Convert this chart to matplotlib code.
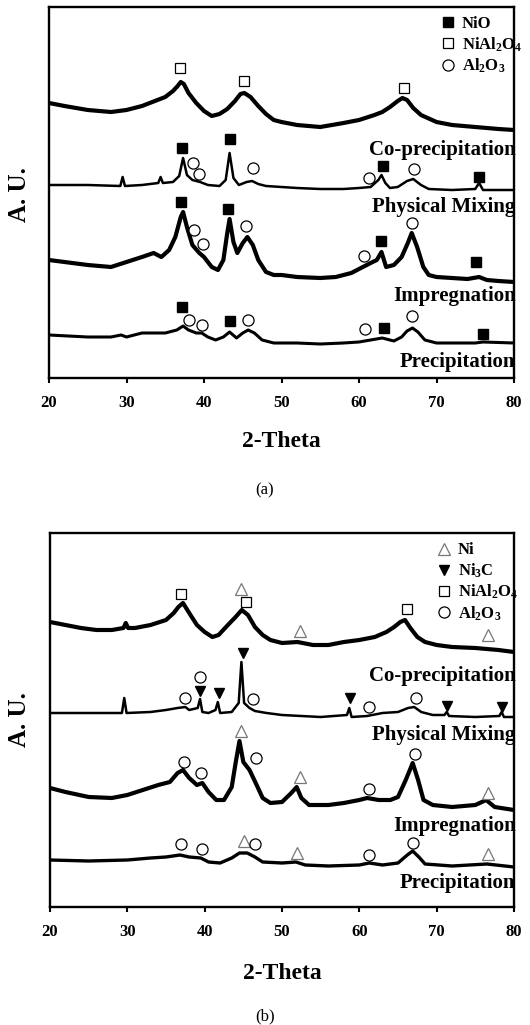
import matplotlib
matplotlib.use('Agg')
import matplotlib.pyplot as plt

plt.rcParams['font.family'] = ['Liberation Serif', 'DejaVu Serif']
plt.rcParams['font.weight'] = 'bold'
plt.rcParams['mathtext.fontset'] = 'custom'
plt.rcParams['mathtext.rm'] = 'Liberation Serif:bold'
plt.rcParams['mathtext.it'] = 'Liberation Serif:bold'
plt.rcParams['mathtext.bf'] = 'Liberation Serif:bold'

sample_labels = ['Co-precipitation', 'Physical Mixing', 'Impregnation', 'Precipitation']
x_ticks = [20, 30, 40, 50, 60, 70, 80]

# ---------------- panel (a): calcined catalysts ----------------
a_coprec_tt = [20, 22, 25, 28, 30, 32, 33, 34, 35, 36, 36.6, 37.0, 37.4, 38, 39, 40, 41, 42, 43, 44,
               44.7, 45.2, 46, 47, 48, 49, 50, 52, 55, 58, 60, 62, 63, 64, 65, 65.6, 66.2, 67, 68, 70,
               72, 75, 78, 80]
a_coprec_int = [275, 272, 268, 266, 268, 272, 275, 278, 281, 287, 292, 296, 294, 285, 275, 267, 262, 264, 269, 277,
                284, 285, 281, 272, 264, 258, 256, 253, 251, 255, 258, 263, 266, 271, 277, 280, 278, 270, 263, 256,
                253, 251, 249, 248]

a_phys_tt = [20, 25, 29.2, 29.5, 29.8, 32, 34.1, 34.4, 34.7, 36, 36.8, 37.3, 37.8, 38.5, 39.5, 40.5, 42, 42.8, 43.3, 43.8,
             44.5, 45.5, 46.2, 47, 48, 50, 52, 55, 58, 60, 61.5, 62.5, 62.9, 63.4, 64, 65, 66.2, 67, 68, 69,
             72, 75, 75.5, 76, 78, 80]
a_phys_int = [193, 193, 192, 201, 192, 193, 195, 201, 195, 196, 202, 220, 203, 198, 196, 193, 192, 198, 225, 200,
              193, 196, 197, 194, 192, 191, 190, 189, 189, 190, 191, 198, 203, 195, 190, 191, 197, 199, 193, 189,
              188, 189, 195, 188, 188, 188]

a_impreg_tt = [20, 22, 25, 28, 30, 32, 33.5, 34.5, 35.5, 36.3, 37.0, 37.3, 37.8, 38.5, 39.4, 40, 41, 41.8, 42.5, 43.0,
               43.3, 43.8, 44.3, 45.0, 45.6, 46.3, 47, 48, 49, 50, 52, 55, 57, 59, 60.5, 61.5, 62.3, 62.9, 63.5, 64.5,
               65.5, 66.3, 66.8, 67.5, 68.3, 69, 70, 72, 74, 75.5, 76.5, 78, 80]
a_impreg_int = [118, 116, 113, 111, 116, 121, 125, 121, 128, 141, 161, 166, 151, 133, 125, 121, 111, 108, 118, 145,
                159, 136, 125, 135, 141, 133, 118, 106, 103, 103, 101, 100, 101, 105, 111, 115, 118, 126, 111, 113,
                121, 135, 145, 131, 111, 103, 101, 100, 99, 101, 98, 97, 96]

a_precip_tt = [20, 25, 28, 29.3, 30, 32, 33, 35, 36.5, 37.3, 38, 39, 39.7, 40.5, 41.5, 42.5, 43.3, 44.2, 45.0, 45.7,
               46.5, 47.5, 49, 52, 55, 58, 60, 61.5, 63, 64.5, 65.5, 66.2, 66.9, 67.6, 68.5, 70, 75, 76, 80]
a_precip_int = [43, 41, 41, 43, 41, 45, 45, 45, 48, 52, 48, 45, 45, 41, 38, 41, 46, 40, 45, 48,
                45, 38, 35, 35, 34, 35, 36, 38, 40, 37, 41, 47, 50, 46, 38, 35, 35, 36, 35]

a_nio_tt = [37.2, 43.3, 63.1, 75.5, 37.0, 43.1, 62.9, 75.1, 37.2, 43.3, 63.2, 76.0]
a_nio_int = [230, 239, 212, 201, 176, 169, 137, 116, 71, 57, 50, 44]
a_nial2o4_tt = [36.95, 45.1, 65.8]
a_nial2o4_int = [310, 297, 290]
a_al2o3_tt = [38.6, 39.4, 46.3, 61.3, 67.1, 38.7, 39.9, 45.4, 60.7, 66.8, 38.1, 39.7, 45.7, 60.8, 66.9]
a_al2o3_int = [215, 204, 210, 200, 209, 148, 134, 152, 122, 155, 58, 53, 58, 49, 62]

# ---------------- panel (b): reduced catalysts ----------------
b_coprec_tt = [20, 22, 24, 26, 28, 29.5, 29.8, 30.1, 31, 33, 35, 36, 36.6, 37.2, 38, 39, 40, 41, 41.8, 43,
               44, 44.8, 45.6, 46.5, 47.5, 48.5, 50, 52, 54, 56, 58, 60, 62, 63.5, 64.5, 65.3, 65.9, 66.6, 67.5, 68.5,
               70, 72, 75, 78, 80]
b_coprec_int = [285, 282, 279, 277, 277, 279, 284, 279, 279, 282, 287, 294, 300, 304, 294, 282, 275, 270, 272, 282,
                290, 297, 292, 280, 272, 267, 264, 265, 262, 262, 265, 267, 270, 275, 280, 285, 287, 279, 270, 265,
                262, 260, 259, 257, 255]

b_phys_tt = [20, 25, 29.3, 29.6, 29.9, 33, 35, 36.5, 37.5, 38, 39.1, 39.4, 39.7, 40.5, 41.4, 41.7, 42.0, 43.5, 44.4, 44.75,
             45.1, 45.8, 46.5, 48, 50, 55, 58.4, 58.7, 59.0, 61, 63, 65, 66.3, 67.1, 68, 69.5, 71.0, 71.3, 71.6, 75,
             78.1, 78.4, 78.7, 80]
b_phys_int = [194, 194, 194, 209, 194, 195, 197, 199, 200, 197, 199, 208, 195, 194, 197, 205, 194, 195, 204, 245,
              204, 199, 196, 194, 192, 190, 192, 199, 190, 191, 194, 195, 199, 200, 195, 192, 192, 195, 191, 190,
              191, 195, 190, 190]

b_impreg_tt = [20, 22, 25, 28, 30, 32, 34, 35.5, 36.5, 37.2, 38, 39, 39.7, 40.5, 41.5, 42.5, 43.5, 44.0, 44.5, 45.0,
               45.8, 46.6, 47.5, 48.5, 50, 51.2, 51.9, 52.5, 53.5, 56, 58, 60, 61, 62.5, 64, 65, 66, 66.9, 67.6, 68.3,
               69.5, 72, 75, 76.4, 77.5, 80]
b_impreg_int = [119, 115, 110, 109, 112, 117, 122, 125, 134, 137, 129, 122, 124, 115, 107, 107, 120, 144, 166, 145,
                137, 124, 109, 104, 105, 114, 120, 109, 102, 102, 104, 107, 109, 107, 107, 110, 127, 144, 127, 107,
                102, 100, 102, 107, 100, 97]

b_precip_tt = [20, 25, 30, 33, 35, 36.8, 38, 39.5, 40.5, 42, 43.5, 44.5, 45.5, 46.5, 47.5, 50, 51.8, 53, 56, 60,
               61.3, 63, 65, 66.2, 66.9, 67.7, 68.5, 72, 76.5, 80]
b_precip_int = [47, 46, 47, 49, 50, 52, 50, 49, 45, 44, 49, 54, 54, 50, 45, 44, 45, 42, 41, 42,
                44, 42, 44, 52, 56, 50, 43, 41, 43, 40]

b_ni_tt = [44.7, 52.3, 76.6, 44.7, 52.3, 76.6, 45.1, 52.0, 76.6]
b_ni_int = [318, 276, 272, 176, 130, 114, 66, 54, 53]
b_ni3c_tt = [39.4, 41.9, 45.0, 58.8, 71.3, 78.4]
b_ni3c_int = [216, 214, 254, 209, 201, 200]
b_nial2o4_tt = [36.9, 45.3, 66.1]
b_nial2o4_int = [313, 305, 298]
b_al2o3_tt = [37.4, 39.4, 46.3, 61.2, 67.3, 37.3, 39.5, 46.7, 61.2, 67.2, 37.0, 39.7, 46.5, 61.3, 67.0]
b_al2o3_int = [209, 230, 208, 200, 209, 145, 134, 149, 118, 153, 63, 58, 63, 52, 64]

W, H, DPI = 530, 1025, 100
fig = plt.figure(figsize=(W / DPI, H / DPI), dpi=DPI)

def px_axes(l, t, r, b):
    return fig.add_axes([l / W, 1 - b / H, (r - l) / W, (b - t) / H])

ax_a = px_axes(49, 7, 514, 378)
ax_b = px_axes(50, 533, 514, 907)

def style_axis(ax, ylim):
    ax.set_xlim(20, 80)
    ax.set_ylim(*ylim)
    ax.set_xticks(x_ticks)
    ax.set_xticklabels([str(t) for t in x_ticks], fontsize=12, fontweight='bold')
    ax.set_yticks([])
    ax.tick_params(axis='x', direction='out', length=3.5, width=1.5, pad=9)
    for s in ax.spines.values():
        s.set_linewidth(1.7)
    ax.set_xlabel('2-Theta', fontsize=17, fontweight='bold')
    ax.set_ylabel('A. U.', fontsize=18, fontweight='bold')

style_axis(ax_a, (0, 371))
style_axis(ax_b, (0, 374))
ax_a.xaxis.set_label_coords(0.5, -0.142)
ax_b.xaxis.set_label_coords(0.5, -0.150)
ax_a.yaxis.set_label_coords(-0.038, 0.495)
ax_b.yaxis.set_label_coords(-0.040, 0.50)

# traces
a_traces = [(a_coprec_tt, a_coprec_int, 3.0), (a_phys_tt, a_phys_int, 1.8),
            (a_impreg_tt, a_impreg_int, 3.0), (a_precip_tt, a_precip_int, 2.2)]
b_traces = [(b_coprec_tt, b_coprec_int, 3.0), (b_phys_tt, b_phys_int, 1.8),
            (b_impreg_tt, b_impreg_int, 3.0), (b_precip_tt, b_precip_int, 2.4)]
for tt, it, lw in a_traces:
    ax_a.plot(tt, it, color='black', lw=lw, solid_joinstyle='round')
for tt, it, lw in b_traces:
    ax_b.plot(tt, it, color='black', lw=lw, solid_joinstyle='round')

# sample labels
a_label_y = [228, 171, 82, 16]
b_label_y = [231, 172, 81, 24]
for lab, y in zip(sample_labels, a_label_y):
    ax_a.text(80.2, y, lab, ha='right', va='center', fontsize=15, fontweight='bold')
for lab, y in zip(sample_labels, b_label_y):
    ax_b.text(80.2, y, lab, ha='right', va='center', fontsize=15, fontweight='bold')

# phase markers
ms = 7.5
nio_style = dict(marker='s', ms=ms - 0.5, mfc='black', mec='black', ls='none')
nial_style = dict(marker='s', ms=ms - 0.5, mfc='white', mec='black', mew=0.9, ls='none')
al_style = dict(marker='o', ms=ms + 0.5, mfc='white', mec='black', mew=0.9, ls='none')
ni_style = dict(marker='^', ms=ms + 0.5, mfc='white', mec='#777777', mew=0.9, ls='none')
ni3c_style = dict(marker='v', ms=ms, mfc='black', mec='black', ls='none')

h_nio, = ax_a.plot(a_nio_tt, a_nio_int, **nio_style)
h_nial_a, = ax_a.plot(a_nial2o4_tt, a_nial2o4_int, **nial_style)
h_al_a, = ax_a.plot(a_al2o3_tt, a_al2o3_int, **al_style)

h_ni, = ax_b.plot(b_ni_tt, b_ni_int, **ni_style)
h_ni3c, = ax_b.plot(b_ni3c_tt, b_ni3c_int, **ni3c_style)
h_nial_b, = ax_b.plot(b_nial2o4_tt, b_nial2o4_int, **nial_style)
h_al_b, = ax_b.plot(b_al2o3_tt, b_al2o3_int, **al_style)

leg_kw = dict(loc='upper left', frameon=False, handlelength=0.8,
              handletextpad=0.45, labelspacing=0.18, borderpad=0, borderaxespad=0,
              prop={'weight': 'bold', 'size': 12})
ax_a.legend([h_nio, h_nial_a, h_al_a], ['NiO', 'NiAl$_2$O$_4$', 'Al$_2$O$_3$'],
            bbox_to_anchor=(0.843, 0.975), **leg_kw)
ax_b.legend([h_ni, h_ni3c, h_nial_b, h_al_b], ['Ni', 'Ni$_3$C', 'NiAl$_2$O$_4$', 'Al$_2$O$_3$'],
            bbox_to_anchor=(0.834, 0.975), **leg_kw)

fig.text(265 / W, 1 - 490 / H, '(a)', ha='center', va='center', fontsize=12, fontweight='normal')
fig.text(265 / W, 1 - 1016 / H, '(b)', ha='center', va='center', fontsize=12, fontweight='normal')

fig.savefig('out.png', dpi=DPI)
